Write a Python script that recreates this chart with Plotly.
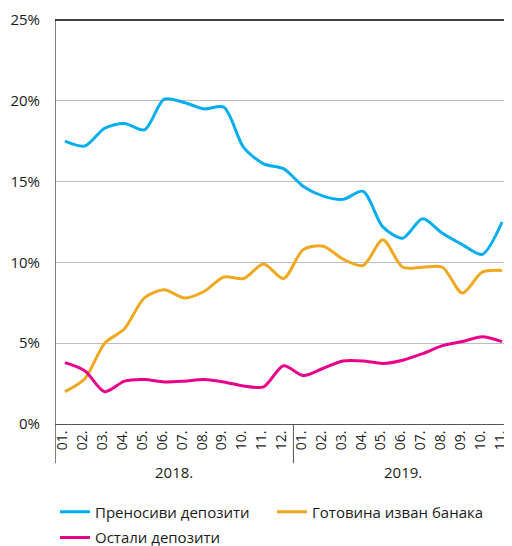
import plotly.graph_objects as go

# monthly data, Jan 2018 - Nov 2019 (%)
months = ['01.', '02.', '03.', '04.', '05.', '06.', '07.', '08.', '09.', '10.', '11.', '12.',
          '01.', '02.', '03.', '04.', '05.', '06.', '07.', '08.', '09.', '10.', '11.']
years = ['2018.', '2019.']

transferable = [17.5, 17.2, 18.3, 18.6, 18.2, 20.1, 19.9, 19.5, 19.6, 17.1, 16.1, 15.8,
                14.7, 14.1, 13.9, 14.4, 12.2, 11.5, 12.7, 11.8, 11.1, 10.5, 12.5]
cash = [2.0, 2.8, 5.0, 5.9, 7.8, 8.3, 7.8, 8.2, 9.1, 9.0, 9.9, 9.0,
        10.8, 11.0, 10.2, 9.8, 11.4, 9.7, 9.7, 9.7, 8.1, 9.4, 9.5]
other = [3.8, 3.3, 2.0, 2.65, 2.75, 2.6, 2.65, 2.75, 2.6, 2.35, 2.3, 3.6,
         3.0, 3.45, 3.9, 3.9, 3.75, 3.95, 4.35, 4.85, 5.1, 5.4, 5.1]

names = ['Преносиви депозити', 'Готовина изван банака', 'Остали депозити']
colors = ['#00AEEF', '#EFA921', '#E8008A']
legends = ['legend', 'legend', 'legend2']

FONT = 'Open Sans'
x = list(range(len(months)))

fig = go.Figure()
for name, vals, col, lg in zip(names, [transferable, cash, other], colors, legends):
    fig.add_trace(go.Scatter(x=x, y=vals, name=name, mode='lines', legend=lg,
                             line=dict(color=col, width=3, shape='spline', smoothing=0.8)))

# page body has an 8px margin, so the figure is 8px smaller than the window
legend_common = dict(orientation='h', x=0, xanchor='left', yanchor='top',
                     yref='container', entrywidth=172, entrywidthmode='pixels',
                     font=dict(size=15), bgcolor='rgba(0,0,0,0)')
fig.update_layout(
    width=504, height=538,
    margin=dict(l=47, r=0, t=12, b=122),
    paper_bgcolor='white', plot_bgcolor='white',
    font=dict(family=FONT, size=14, color='#1a1a1a'),
    showlegend=True,
    legend=dict(y=0.094, **legend_common),
    legend2=dict(y=0.046, **legend_common),
)
fig.update_xaxes(range=[-0.5, len(months) - 0.5], tickvals=x, ticktext=months,
                 tickangle=-90, showgrid=False, zeroline=False, automargin=False,
                 showline=True, linecolor='#555', linewidth=1, ticklabelshift=-2,
                 tickfont=dict(size=14), ticks='')
fig.update_yaxes(range=[0, 25], tickvals=[0, 5, 10, 15, 20, 25],
                 ticktext=['0%', '5%', '10%', '15%', '20%', '25%'],
                 showgrid=True, gridcolor='#BDBDBD', gridwidth=1, zeroline=False,
                 showline=False, ticks='', ticklabelstandoff=14, automargin=False,
                 tickfont=dict(size=15))

# left axis line running down through the category labels
fig.add_shape(type='line', xref='x', yref='paper', x0=-0.5, x1=-0.5, y0=1, y1=-0.097,
              line=dict(color='#555', width=1.5))
# year divider
fig.add_shape(type='line', xref='x', yref='paper', x0=11.5, x1=11.5, y0=0, y1=-0.097,
              line=dict(color='#555', width=1))
# top frame line
fig.add_shape(type='line', xref='paper', yref='paper', x0=0, x1=1, y0=1, y1=1,
              line=dict(color='black', width=1.5))

for yr, cx in zip(years, [5.5, 17]):
    fig.add_annotation(text=yr, x=cx, xref='x', y=-0.119, yref='paper',
                       showarrow=False, font=dict(size=15), yanchor='middle')

fig.write_html('out.html')
